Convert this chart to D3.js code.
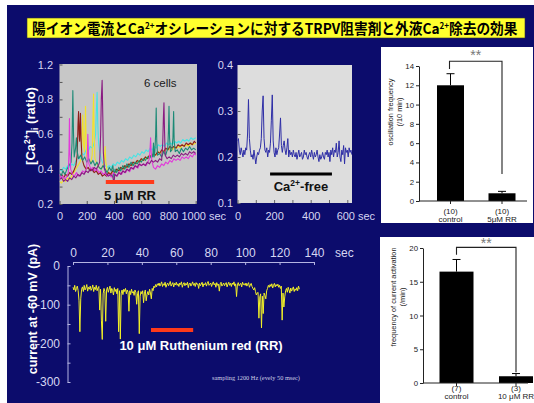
<!DOCTYPE html>
<html><head><meta charset="utf-8">
<script src="https://cdn.jsdelivr.net/npm/d3@7"></script>
<style>html,body{margin:0;padding:0;background:#fff;} svg{display:block;}</style>
</head><body><svg id="fig" width="534" height="403"></svg>
<script>
// ---------------- data ----------------
// title, split where "2+" is raised
const titleParts = [
  {t: "陽イオン電流とCa", sup: false},
  {t: "2+", sup: true},
  {t: "オシレーションに対するTRPV阻害剤と外液Ca", sup: false},
  {t: "2+", sup: true},
  {t: "除去の効果", sup: false}
];

// [Ca2+]i ratio traces of six cells: [time (s), ratio]
const cellMagenta = [[0,.37],[10,.35],[25,.36],[40,.34],[55,.36],[65,.38],[70,.52],[73,.69],[76,.50],[82,.40],[95,.37],[110,.36],[125,.38],[140,.36],[155,.37],[170,.39],[185,.38],[200,.41],[205,.50],[208,.60],[211,.52],[216,.43],[230,.40],[245,.41],[260,.39],[275,.40],[290,.38],[305,.39],[320,.37],[335,.38],[350,.36],[365,.37],[380,.355],[395,.38],[410,.37],[425,.36],[440,.385],[455,.37],[470,.39],[485,.38],[500,.40],[515,.385],[530,.41],[545,.40],[560,.42],[575,.405],[590,.43],[605,.42],[620,.43],[635,.42],[650,.44],[660,.46],[665,.52],[669,.58],[673,.50],[678,.45],[690,.41],[705,.40],[720,.42],[735,.41],[750,.43],[765,.42],[780,.44],[795,.43],[810,.45],[825,.44],[840,.46],[855,.45],[870,.46],[885,.45],[900,.47],[915,.46],[930,.47],[945,.46],[960,.48],[975,.47],[990,.49],[1000,.48]];
const cellTeal = [[0,.38],[12,.36],[25,.39],[40,.37],[55,.40],[70,.42],[85,.44],[92,.55],[98,.85],[103,.60],[108,.47],[118,.52],[124,.58],[130,.50],[140,.46],[155,.48],[170,.45],[185,.47],[200,.44],[215,.46],[230,.43],[245,.45],[260,.42],[275,.44],[290,.41],[305,.40],[320,.42],[335,.40],[350,.38],[365,.41],[380,.39],[392,.42],[400,.35],[408,.40],[420,.38],[435,.41],[450,.39],[465,.42],[480,.40],[495,.43],[510,.41],[525,.44],[540,.42],[555,.44],[570,.43],[585,.45],[600,.44],[615,.46],[630,.45],[645,.47],[660,.46],[675,.48],[685,.47],[690,.55],[695,.47],[700,.50],[706,.60],[710,.75],[714,.56],[720,.48],[735,.49],[750,.47],[765,.50],[780,.48],[795,.52],[800,.62],[804,.76],[808,.58],[815,.50],[825,.51],[833,.58],[838,.73],[842,.56],[850,.50],[865,.51],[880,.49],[895,.52],[910,.50],[925,.52],[940,.51],[955,.53],[970,.51],[985,.52],[1000,.51]];
const cellBrown = [[0,.36],[15,.37],[30,.35],[45,.37],[60,.36],[75,.38],[90,.37],[105,.39],[120,.42],[130,.48],[136,.66],[140,.73],[144,.60],[148,.56],[151,.66],[154,.72],[158,.58],[165,.46],[180,.42],[195,.40],[210,.41],[225,.39],[240,.40],[255,.38],[270,.39],[285,.37],[300,.38],[315,.36],[330,.37],[345,.36],[360,.38],[375,.37],[390,.39],[405,.38],[420,.40],[435,.39],[450,.41],[465,.40],[480,.42],[495,.41],[510,.43],[525,.42],[540,.44],[555,.43],[570,.45],[585,.44],[600,.46],[615,.45],[630,.47],[645,.46],[660,.48],[675,.47],[690,.49],[705,.48],[720,.50],[735,.49],[750,.51],[765,.50],[780,.52],[795,.51],[810,.53],[825,.52],[840,.53],[855,.52],[870,.54],[885,.53],[900,.54],[915,.53],[930,.55],[945,.54],[960,.55],[975,.54],[990,.56],[1000,.55]];
const cellYellow = [[0,.33],[15,.32],[30,.34],[45,.33],[60,.35],[75,.34],[90,.36],[105,.38],[120,.40],[135,.42],[150,.44],[160,.46],[166,.60],[171,.71],[176,.55],[183,.50],[188,.64],[191,.76],[195,.58],[200,.47],[215,.45],[230,.44],[240,.48],[246,.70],[250,.83],[254,.62],[260,.46],[275,.43],[290,.41],[305,.40],[320,.42],[330,.46],[335,.53],[340,.44],[350,.39],[365,.38],[380,.37],[395,.39],[410,.38],[425,.40],[440,.39],[455,.41],[470,.40],[485,.42],[500,.41],[515,.43],[530,.42],[545,.44],[560,.43],[575,.45],[590,.44],[605,.46],[620,.45],[635,.47],[650,.46],[665,.48],[680,.47],[695,.49],[710,.48],[725,.50],[740,.49],[755,.51],[770,.50],[785,.52],[800,.51],[815,.52],[830,.51],[845,.53],[860,.52],[875,.53],[890,.52],[905,.54],[920,.53],[935,.54],[950,.53],[965,.55],[980,.54],[1000,.55]];
const cellCyan = [[0,.40],[15,.39],[30,.41],[45,.40],[60,.42],[75,.41],[90,.43],[105,.42],[120,.45],[135,.47],[150,.46],[165,.49],[180,.48],[195,.51],[210,.50],[225,.53],[240,.52],[255,.55],[265,.60],[270,.72],[276,.84],[281,.66],[287,.55],[295,.50],[305,.46],[320,.43],[335,.42],[350,.41],[365,.42],[380,.41],[395,.43],[410,.42],[425,.44],[440,.43],[455,.45],[470,.44],[485,.46],[500,.45],[515,.47],[530,.46],[545,.48],[560,.47],[575,.49],[590,.48],[605,.50],[620,.49],[635,.51],[650,.50],[665,.52],[680,.51],[695,.53],[710,.52],[725,.54],[740,.53],[755,.54],[770,.53],[785,.55],[800,.54],[815,.55],[830,.54],[845,.56],[860,.55],[875,.56],[890,.55],[905,.57],[920,.56],[935,.57],[950,.56],[965,.58],[980,.57],[1000,.58]];
const cellPurple = [[0,.34],[15,.35],[30,.33],[45,.34],[60,.33],[75,.35],[90,.34],[105,.36],[120,.35],[135,.37],[150,.36],[165,.38],[180,.37],[195,.39],[210,.38],[225,.40],[240,.39],[255,.41],[270,.40],[285,.42],[295,.44],[302,.60],[307,.80],[313,.91],[318,.70],[322,.50],[330,.40],[345,.37],[360,.36],[375,.37],[390,.36],[400,.32],[406,.37],[420,.36],[435,.38],[450,.37],[465,.39],[480,.38],[495,.40],[510,.39],[525,.41],[540,.40],[555,.42],[570,.41],[585,.43],[600,.42],[615,.43],[630,.42],[645,.44],[660,.43],[675,.45],[690,.44],[705,.45],[720,.44],[735,.46],[750,.45],[758,.55],[763,.70],[767,.78],[771,.62],[776,.48],[790,.46],[805,.47],[820,.46],[835,.48],[850,.47],[865,.48],[880,.47],[895,.49],[910,.48],[925,.49],[940,.48],[955,.50],[970,.49],[985,.50],[1000,.49]];
const ratioTicks = [0.2, 0.4, 0.6, 0.8, 1.0];
const ratioTickLabels = ["0.2", "0.4", "0.6", "0.8", "1.2"];
const timeTicks1 = [0, 200, 400, 600, 800, 1000];
const rrPeriod = [340, 695];

// Ca2+-free recording, one ratio value every 5 s
const caFreeStep = 5;
const caFreeTrace = [.235,.24,.215,.205,.22,.21,.2,.215,.205,.22,.215,.25,.325,.24,.215,.2,.205,.195,.215,.2,
.185,.2,.21,.205,.215,.22,.24,.3,.333,.24,.215,.21,.22,.2,.215,.21,.23,.28,.335,.235,
.21,.2,.22,.205,.215,.22,.25,.285,.225,.21,.225,.235,.215,.205,.22,.24,.2,.215,.205,.21,
.2,.215,.205,.2,.21,.195,.205,.215,.2,.205,.21,.195,.2,.215,.205,.21,.2,.195,.205,.21,
.2,.215,.205,.195,.21,.2,.205,.215,.2,.19,.205,.195,.2,.21,.2,.195,.21,.205,.215,.2,
.21,.19,.215,.205,.22,.2,.215,.21,.23,.2,.21,.235,.2,.19,.215,.205,.225,.185,.22,.21,
.215,.2,.22,.21,.215,.205];
const caFreeTicks = [0.1, 0.2, 0.3, 0.4];
const timeTicks2 = [0, 200, 400, 600];
const caFreePeriod = [178, 516];

// whole-cell current at -60 mV (pA), one value every 0.5 s
const currentStep = 0.5;
const currentTrace = [
-55,-62,-50,-66,-58,-52,-64,-90,-170,-85,-60,-54,-66,-50,-62,-57,-48,-65,-55,-60,
-52,-63,-58,-49,-66,-55,-61,-50,-64,-57,-53,-114,-60,-140,-190,-72,-58,-66,-143,-62,
-55,-68,-60,-52,-70,-58,-63,-75,-56,-66,-60,-72,-58,-170,-64,-189,-70,-62,-74,-60,
-66,-58,-72,-62,-68,-117,-64,-74,-60,-70,-66,-76,-62,-68,-99,-72,-64,-175,-78,-66,
-72,-64,-95,-70,-62,-90,-74,-66,-75,-60,-70,-85,-58,-64,-52,-56,-48,-54,-46,-50,
-44,-52,-47,-41,-53,-46,-50,-42,-55,-48,-44,-51,-46,-40,-52,-47,-43,-54,-45,-49,
-42,-50,-46,-53,-44,-48,-41,-55,-47,-43,-51,-45,-49,-42,-56,-46,-44,-52,-47,-41,
-50,-45,-53,-43,-48,-46,-58,-44,-51,-47,-42,-54,-46,-49,-43,-52,-45,-40,-50,-47,
-44,-53,-46,-41,-49,-45,-55,-43,-50,-47,-65,-46,-42,-52,-48,-44,-51,-46,-43,-54,
-47,-42,-50,-45,-53,-44,-48,-41,-52,-46,-79,-49,-43,-51,-47,-45,-54,-42,-48,-46,
-50,-44,-52,-47,-43,-55,-49,-45,-53,-58,-62,-56,-66,-75,-70,-68,-135,-80,-72,-160,
-78,-123,-70,-76,-85,-64,-58,-50,-55,-48,-53,-46,-57,-50,-45,-54,-48,-52,-47,-55,
-50,-58,-52,-140,-70,-106,-80,-64,-58,-68,-55,-62,-70,-57,-65,-60,-54,-66,-59,-63,
-56,-64,-52,-60];
const currentTimeTicks = [0, 20, 40, 60, 80, 100, 120, 140];
const currentTicks = [0, -100, -200, -300];
const rutheniumPeriod = [45.3, 69.8];

// summary bar charts
const oscCategories = ["control", "5μM RR"];
const oscN = ["(10)", "(10)"];
const oscMeans = [12.0, 0.8];
const oscErrors = [1.2, 0.2];
const actCategories = ["control", "10 μM RR"];
const actN = ["(7)", "(3)"];
const actMeans = [16.5, 1.0];
const actErrors = [1.8, 0.4];

// ---------------- drawing ----------------
const svg = d3.select("#fig");
const SANS = "'Liberation Sans', Arial, Helvetica, sans-serif";
const NAVY = "#0c0c6c";
const AXIS_LIGHT = "#b4b4e2";
const TEXT_LIGHT = "#d6d6f2";

svg.append("rect").attr("width", 534).attr("height", 403).attr("fill", "#fff");
svg.append("rect").attr("x", 7).attr("y", 5).attr("width", 527).attr("height", 398).attr("fill", NAVY);

// title banner
svg.append("rect").attr("x", 27).attr("y", 18).attr("width", 498).attr("height", 20)
  .attr("fill", "#ffff2e").attr("stroke", "#333").attr("stroke-width", 0.6);
const title = svg.append("text")
  .attr("font-family", "'Noto Sans CJK JP', sans-serif").attr("font-weight", 700)
  .attr("font-size", 14.5).attr("fill", "#000");
titleParts.forEach((p, i) => {
  title.append("tspan").text(p.t)
    .attr("font-size", p.sup ? 8.5 : null)
    .attr("dy", p.sup ? -5 : (i > 0 ? 5 : 0));
});
const tw = title.node().getComputedTextLength();
title.attr("transform", `translate(32,33.5) scale(${486 / tw},1)`);

function styleAxis(g, lineColor, textColor, size) {
  g.selectAll("path.domain").attr("stroke", lineColor);
  g.selectAll(".tick line").attr("stroke", lineColor);
  g.selectAll(".tick text").attr("fill", textColor).attr("font-size", size).attr("font-family", SANS);
}

// ---- panel 1: six cells ----
const x1 = d3.scaleLinear().domain([0, 1000]).range([59.5, 195.7]);
const y1 = d3.scaleLinear().domain([0.2, 1.0]).range([204, 64.5]);
svg.append("rect").attr("x", 59.5).attr("y", 64).attr("width", 137.5).attr("height", 140).attr("fill", "#c7c7c7");
svg.append("clipPath").attr("id", "clip1").append("rect").attr("x", 59.5).attr("y", 64).attr("width", 137.5).attr("height", 140);
const line1 = d3.line().x(d => x1(d[0])).y(d => y1(d[1]));
const cells = [
  {d: cellCyan, c: "#46e4e4"}, {d: cellYellow, c: "#f2e22a"}, {d: cellBrown, c: "#8e1e1a"},
  {d: cellTeal, c: "#1c8a76"}, {d: cellMagenta, c: "#e23ada"}, {d: cellPurple, c: "#8a1c82"}
];
const g1 = svg.append("g").attr("clip-path", "url(#clip1)");
cells.forEach(s => g1.append("path").datum(s.d).attr("d", line1)
  .attr("fill", "none").attr("stroke", s.c).attr("stroke-width", 1.1).attr("stroke-linejoin", "round"));

const ay1minor = svg.append("g").attr("transform", "translate(59.5,0)")
  .call(d3.axisLeft(y1).tickValues(d3.range(2, 11).map(d => d / 10)).tickSizeInner(-3).tickSizeOuter(0).tickFormat(""));
ay1minor.select(".domain").remove();
styleAxis(ay1minor, "#555", TEXT_LIGHT, 11);
const ay1 = svg.append("g").attr("transform", "translate(59.5,0)")
  .call(d3.axisLeft(y1).tickValues(ratioTicks).tickSize(0).tickPadding(6.5).tickFormat((d, i) => ratioTickLabels[i]));
ay1.select(".domain").remove();
styleAxis(ay1, "none", TEXT_LIGHT, 11);
const ax1 = svg.append("g").attr("transform", "translate(0,204)")
  .call(d3.axisBottom(x1).tickValues(timeTicks1).tickSizeInner(-3).tickSizeOuter(0).tickPadding(8).tickFormat(d3.format("d")));
ax1.select(".domain").remove();
styleAxis(ax1, "#555", TEXT_LIGHT, 11);
ax1.selectAll(".tick text").attr("dx", d => d === 1000 ? -2.5 : 0);
svg.append("text").attr("x", 209).attr("y", 220).attr("font-family", SANS).attr("font-size", 11)
  .attr("fill", TEXT_LIGHT).text("sec");

svg.append("rect").attr("x", x1(rrPeriod[0])).attr("y", 180).attr("width", x1(rrPeriod[1]) - x1(rrPeriod[0]))
  .attr("height", 4).attr("fill", "#ff3a1a");
svg.append("text").attr("x", (x1(rrPeriod[0]) + x1(rrPeriod[1])) / 2).attr("y", 200).attr("text-anchor", "middle")
  .attr("font-family", SANS).attr("font-weight", 700).attr("font-size", 13).attr("fill", "#111").text("5 μM RR");
svg.append("text").attr("x", 144).attr("y", 87).attr("font-family", SANS).attr("font-size", 11.5)
  .attr("fill", "#1a1a1a").text("6 cells");

const caLabel = svg.append("text").attr("transform", "translate(35,126) rotate(-90)").attr("text-anchor", "middle")
  .attr("font-family", SANS).attr("font-weight", 700).attr("font-size", 13).attr("fill", "#fff");
caLabel.append("tspan").text("[Ca");
caLabel.append("tspan").text("2+").attr("font-size", 8.5).attr("dy", -5);
caLabel.append("tspan").text("]").attr("dy", 5);
caLabel.append("tspan").text("i").attr("font-size", 8.5).attr("dy", 3);
caLabel.append("tspan").text(" (ratio)").attr("dy", -3);

// ---- panel 2: Ca2+-free ----
const x2 = d3.scaleLinear().domain([0, 600]).range([237.5, 347.3]);
const y2 = d3.scaleLinear().domain([0.1, 0.4]).range([203, 65]);
svg.append("rect").attr("x", 237.5).attr("y", 65).attr("width", 114.5).attr("height", 138).attr("fill", "#dddddd");
svg.append("clipPath").attr("id", "clip2").append("rect").attr("x", 237.5).attr("y", 65).attr("width", 114.5).attr("height", 138);
svg.append("g").attr("clip-path", "url(#clip2)").append("path").datum(caFreeTrace)
  .attr("d", d3.line().x((d, i) => x2(i * caFreeStep)).y(d => y2(d)))
  .attr("fill", "none").attr("stroke", "#2e2ea6").attr("stroke-width", 1).attr("stroke-linejoin", "round");
const ay2minor = svg.append("g").attr("transform", "translate(237.5,0)")
  .call(d3.axisLeft(y2).tickValues(d3.range(2, 8).map(d => d * 0.05)).tickSizeInner(-3).tickSizeOuter(0).tickFormat(""));
ay2minor.select(".domain").remove();
styleAxis(ay2minor, "#666", TEXT_LIGHT, 11);
const ay2 = svg.append("g").attr("transform", "translate(237.5,0)")
  .call(d3.axisLeft(y2).tickValues(caFreeTicks).tickSize(0).tickPadding(4.5).tickFormat(d3.format(".1f")));
ay2.select(".domain").remove();
styleAxis(ay2, "none", TEXT_LIGHT, 11);
const ax2 = svg.append("g").attr("transform", "translate(0,203)")
  .call(d3.axisBottom(x2).tickValues(d3.range(0, 601, 100)).tickSizeInner(-3).tickSizeOuter(0)
    .tickFormat(d => timeTicks2.includes(d) ? d : "").tickPadding(9));
ax2.select(".domain").remove();
styleAxis(ax2, "#666", TEXT_LIGHT, 11);
ax2.selectAll(".tick text").attr("dx", d => d === 600 ? -2 : 0);
svg.append("text").attr("x", 358).attr("y", 220).attr("font-family", SANS).attr("font-size", 11)
  .attr("fill", TEXT_LIGHT).text("sec");
svg.append("rect").attr("x", x2(caFreePeriod[0])).attr("y", 172.5).attr("width", x2(caFreePeriod[1]) - x2(caFreePeriod[0]))
  .attr("height", 3).attr("fill", "#000");
const cfLabel = svg.append("text").attr("x", 301).attr("y", 191).attr("text-anchor", "middle")
  .attr("font-family", SANS).attr("font-weight", 700).attr("font-size", 13).attr("fill", "#111");
cfLabel.append("tspan").text("Ca");
cfLabel.append("tspan").text("2+").attr("font-size", 8.5).attr("dy", -5);
cfLabel.append("tspan").text("-free").attr("dy", 5);

// ---- panel 3: current trace ----
const x3 = d3.scaleLinear().domain([0, 140]).range([73, 314]);
const y3 = d3.scaleLinear().domain([0, -300]).range([266, 382]);
svg.append("path").datum(currentTrace)
  .attr("d", d3.line().x((d, i) => x3(i * currentStep)).y(d => y3(d)))
  .attr("fill", "none").attr("stroke", "#f2f028").attr("stroke-width", 1).attr("stroke-linejoin", "round");
const ax3 = svg.append("g").attr("transform", "translate(0,262)")
  .call(d3.axisTop(x3).tickValues(currentTimeTicks).tickSizeInner(-3).tickSizeOuter(0).tickPadding(5));
styleAxis(ax3, AXIS_LIGHT, TEXT_LIGHT, 12);
svg.append("text").attr("x", 335).attr("y", 257).attr("font-family", SANS).attr("font-size", 12)
  .attr("fill", TEXT_LIGHT).text("sec");
const ay3 = svg.append("g").attr("transform", "translate(67.5,0)")
  .call(d3.axisLeft(y3).tickValues(d3.range(0, -301, -50)).tickSizeInner(-3).tickSizeOuter(0).tickPadding(7.5)
    .tickFormat(d => currentTicks.includes(d) ? String(d) : ""));
styleAxis(ay3, AXIS_LIGHT, TEXT_LIGHT, 12);
svg.append("rect").attr("x", x3(rutheniumPeriod[0])).attr("y", 328).attr("width", x3(rutheniumPeriod[1]) - x3(rutheniumPeriod[0]))
  .attr("height", 4).attr("fill", "#ff3a1a");
svg.append("text").attr("x", 201).attr("y", 350).attr("text-anchor", "middle")
  .attr("font-family", SANS).attr("font-weight", 700).attr("font-size", 13).attr("fill", "#fff")
  .text("10 μM Ruthenium red (RR)");
svg.append("text").attr("x", 212).attr("y", 380).attr("font-family", "'Liberation Serif', 'Times New Roman', serif")
  .attr("font-size", 6.3).attr("fill", "#d0d0e4").text("sampling 1200 Hz (evely 50 msec)");
svg.append("text").attr("transform", "translate(37,309) rotate(-90)").attr("text-anchor", "middle")
  .attr("font-family", SANS).attr("font-weight", 700).attr("font-size", 12.5).attr("fill", "#fff")
  .text("current at -60 mV (pA)");

// ---- bar charts ----
function barChart(o) {
  svg.append("rect").attr("x", o.box[0]).attr("y", o.box[1]).attr("width", o.box[2] - o.box[0])
    .attr("height", o.box[3] - o.box[1]).attr("fill", "#fff");
  const y = d3.scaleLinear().domain([0, o.max]).range([o.y0, o.yTop]);
  const x = d3.scalePoint().domain(o.cats).range(o.centers);
  const g = svg.append("g");
  g.selectAll("rect.bar").data(o.means).join("rect").attr("class", "bar")
    .attr("x", (d, i) => x(o.cats[i]) - o.barW / 2).attr("y", d => y(d))
    .attr("width", o.barW).attr("height", d => y(0) - y(d)).attr("fill", "#000");
  o.means.forEach((m, i) => {
    const cx = x(o.cats[i]);
    g.append("line").attr("x1", cx).attr("x2", cx).attr("y1", y(m)).attr("y2", y(m + o.errs[i]))
      .attr("stroke", "#000").attr("stroke-width", 1);
    g.append("line").attr("x1", cx - 4).attr("x2", cx + 4).attr("y1", y(m + o.errs[i])).attr("y2", y(m + o.errs[i]))
      .attr("stroke", "#000").attr("stroke-width", 1);
    g.append("text").attr("x", cx).attr("y", o.nY).attr("text-anchor", "middle").attr("font-family", SANS)
      .attr("font-size", 8).attr("fill", "#222").text(o.ns[i]);
    g.append("text").attr("x", cx).attr("y", o.nY + 8).attr("text-anchor", "middle").attr("font-family", SANS)
      .attr("font-size", 8).attr("fill", "#222").text(o.cats[i]);
  });
  const ay = g.append("g").attr("transform", `translate(${o.axX},0)`)
    .call(d3.axisLeft(y).tickValues(o.ticks).tickSizeInner(3).tickSizeOuter(0).tickPadding(2));
  styleAxis(ay, "#222", "#222", 7.8);
  g.append("line").attr("x1", o.axX).attr("x2", o.box[2] - 6).attr("y1", y(0)).attr("y2", y(0)).attr("stroke", "#222");
  o.cats.forEach(c => g.append("line").attr("x1", x(c)).attr("x2", x(c)).attr("y1", y(0)).attr("y2", y(0) + 3).attr("stroke", "#222"));
  const xl = x(o.cats[0]) + o.legShift[0], xr = x(o.cats[1]) + o.legShift[1];
  g.append("path").attr("d", `M${xl},${y(o.bracket[0])}V${y(o.bracket[1])}H${xr}V${y(o.bracket[2])}`)
    .attr("fill", "none").attr("stroke", "#222").attr("stroke-width", 1.1);
  g.append("text").attr("x", (xl + xr) / 2).attr("y", y(o.bracket[1]) + o.starDy).attr("text-anchor", "middle")
    .attr("font-family", SANS).attr("font-size", 14).attr("fill", "#777").text("**");
  const lab = g.append("text").attr("transform", `translate(${o.labX},${o.labY}) rotate(-90)`)
    .attr("text-anchor", "middle").attr("font-family", SANS).attr("font-size", 7.4).attr("fill", "#222");
  lab.append("tspan").attr("x", 0).attr("y", 0).text(o.label[0]);
  lab.append("tspan").attr("x", 0).attr("y", 8.5).text(o.label[1]);
}

barChart({
  box: [381, 47, 533, 223], max: 14, y0: 201, yTop: 66, axX: 419,
  cats: oscCategories, ns: oscN, means: oscMeans, errs: oscErrors,
  centers: [450.5, 502], barW: 27, ticks: d3.range(0, 15, 2), nY: 214,
  bracket: [13.7, 14.5, 2.8], legShift: [-1, 0], starDy: -1,
  label: ["oscillation frequency", "(/10 min)"], labX: 393, labY: 112
});
barChart({
  box: [380, 237, 534, 403], max: 20, y0: 383, yTop: 248, axX: 423,
  cats: actCategories, ns: actN, means: actMeans, errs: actErrors,
  centers: [456.5, 516], barW: 34, ticks: d3.range(0, 21, 5), nY: 391,
  bracket: [19.0, 20.1, 1.6], legShift: [0, 0], starDy: 1,
  label: ["frequency of current activation", "(/min)"], labX: 396, labY: 297
});
</script></body></html>
